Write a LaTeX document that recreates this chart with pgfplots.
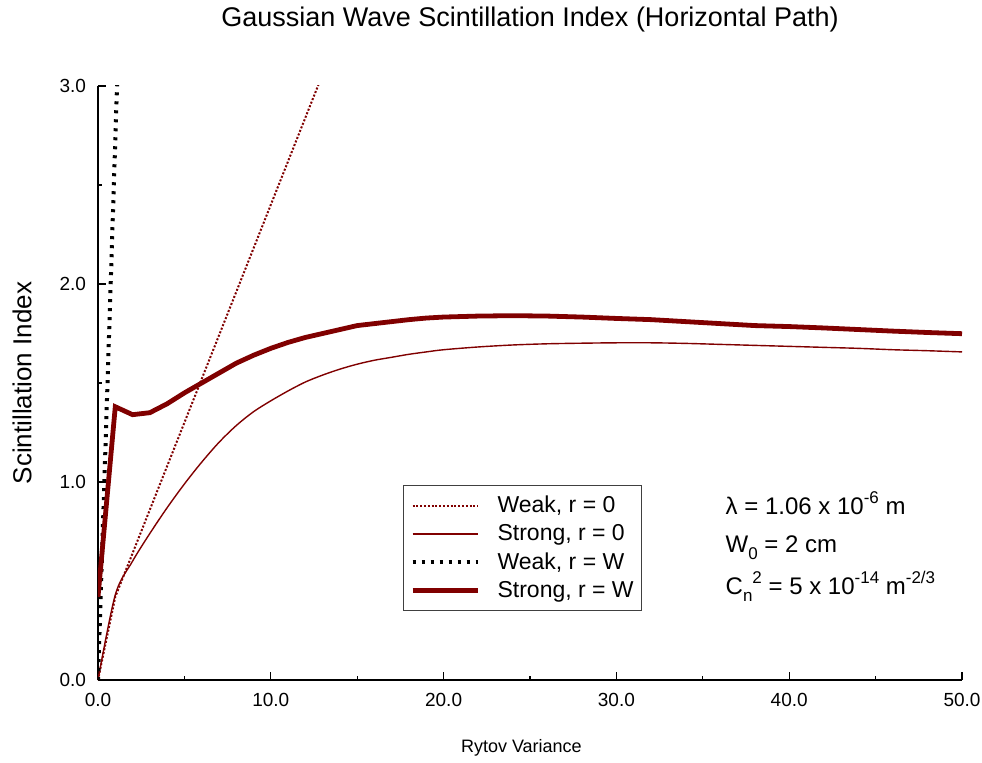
\documentclass[border=0pt]{standalone}
\usepackage{pgfplots}
\pgfplotsset{compat=1.18}
\usepackage{fontspec}
\setmainfont{Liberation Sans}
\definecolor{maroon}{RGB}{128,0,0}
\newcommand{\sups}[1]{\raisebox{0.42em}{\fontsize{8.5}{10}\selectfont #1}}
\newcommand{\subs}[1]{\raisebox{-0.3em}{\fontsize{8.5}{10}\selectfont #1}}
\begin{document}
\begin{tikzpicture}
\begin{axis}[
  scale only axis,
  width=432pt, height=297pt,
  xmin=0, xmax=50, ymin=0, ymax=3,
  axis lines=left,
  axis line style={-, line width=1pt},
  tick align=inside,
  major tick length=4pt, minor tick length=2pt,
  tick style={black, line width=0.6pt},
  xtick={0,10,20,30,40,50},
  ytick={0,1,2,3},
  minor xtick={5,15,25,35,45},
  minor ytick={0.5,1.5,2.5},
  /pgf/number format/assume math mode=true,
  xticklabel style={/pgf/number format/.cd, fixed, fixed zerofill, precision=1, /tikz/.cd, yshift=-3pt},
  yticklabel style={/pgf/number format/.cd, fixed, fixed zerofill, precision=1, /tikz/.cd, xshift=-2.5pt},
  ticklabel style={font=\fontsize{9.5}{11}\selectfont},
  title={Gaussian Wave Scintillation Index (Horizontal Path)},
  title style={font=\fontsize{13.5}{16}\selectfont, at={(axis description cs:0.5,1.091)}, anchor=center},
  xlabel={Rytov Variance},
  xlabel style={font=\fontsize{9}{11}\selectfont, at={(axis description cs:0.49,-0.1145)}, anchor=center},
  ylabel={Scintillation Index},
  ylabel style={font=\fontsize{13}{15}\selectfont, at={(axis description cs:-0.088,0.5)}, anchor=center},
  clip=true,
  legend style={at={(0.353,0.328)}, anchor=north west, draw=black!75, line width=0.6pt,
    font=\fontsize{11.5}{14.6}\selectfont, row sep=0.5pt, inner sep=2pt, inner ysep=3pt, cells={anchor=west}},
  legend image code/.code={\draw[#1] (2.5pt,0pt) -- (35pt,0pt); \path[draw=none] (0pt,0pt) -- (43pt,0pt);},
]
\addplot[maroon, line width=1pt, dash pattern=on 1pt off 0.9pt] coordinates {
(0,0) (1,0.42) (13,3.06)};
\addlegendentry{Weak, r = 0}
\addplot[maroon, line width=0.7pt, smooth] coordinates {
(0,0) (1,0.43) (2,0.60) (3,0.74) (4,0.87) (5,0.99) (6,1.10) (7,1.20) (8,1.285)
(9,1.355) (10,1.41) (11,1.46) (12,1.505) (13,1.54) (14,1.57) (15,1.595) (16,1.615)
(17,1.63) (18,1.645) (19,1.657) (20,1.668) (22,1.682) (24,1.692) (26,1.698) (28,1.701)
(30,1.703) (32,1.703) (34,1.70) (36,1.695) (38,1.69) (40,1.685) (42,1.68) (44,1.675)
(46,1.668) (48,1.663) (50,1.657)};
\addlegendentry{Strong, r = 0}
\addplot[black, line width=2pt, dash pattern=on 1.5pt off 3pt] coordinates {
(0,0) (2,5.45)};
\addlegendentry{Weak, r = W}
\addplot[maroon, line width=2.4pt] coordinates {
(0,0.42) (1,1.38) (2,1.34) (3,1.35) (4,1.395) (5,1.45) (6,1.50) (7,1.55) (8,1.60)
(9,1.64) (10,1.675) (11,1.705) (12,1.73) (13,1.75) (14,1.77) (15,1.79) (16,1.80)
(17,1.81) (18,1.82) (19,1.828) (20,1.833) (22,1.838) (24,1.84) (26,1.838) (28,1.833)
(30,1.826) (32,1.82) (34,1.81) (36,1.80) (38,1.79) (40,1.785) (42,1.778) (44,1.77)
(46,1.762) (48,1.755) (50,1.749)};
\addlegendentry{Strong, r = W}
\node[anchor=base west, inner sep=0pt, font=\fontsize{12}{14}\selectfont] at (axis cs:36.3,0.838) {λ = 1.06 x 10\sups{-6} m};
\node[anchor=base west, inner sep=0pt, font=\fontsize{12}{14}\selectfont] at (axis cs:36.3,0.646) {W\subs{0} = 2 cm};
\node[anchor=base west, inner sep=0pt, font=\fontsize{12}{14}\selectfont] at (axis cs:36.3,0.434) {C\subs{n}\sups{2} = 5 x 10\sups{-14} m\sups{-2/3}};
\end{axis}
\pgfresetboundingbox
\useasboundingbox ([xshift=-49pt,yshift=-41.5pt]current axis.south west) rectangle ([xshift=10pt,yshift=43pt]current axis.north east);
\end{tikzpicture}
\end{document}
